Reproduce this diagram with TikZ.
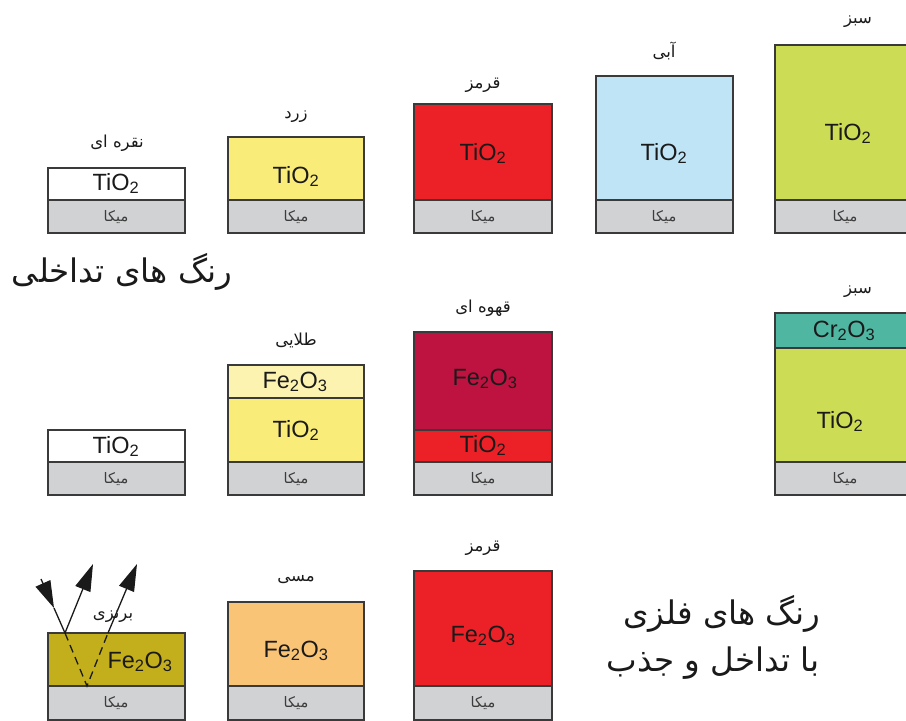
\documentclass[tikz,border=0pt]{standalone}
\usepackage{fontspec}
\setmainfont{Liberation Sans}
\newfontfamily\fa[Script=Arabic]{DejaVu Sans}
\TeXXeTstate=1
\usetikzlibrary{arrows.meta}
\definecolor{edge}{HTML}{3A3A3A}
\definecolor{ink}{HTML}{1A1A1A}
\definecolor{mica}{HTML}{D1D2D4}
\definecolor{yel}{HTML}{FAEC78}
\definecolor{goldlt}{HTML}{FCF3B0}
\definecolor{redc}{HTML}{EC2127}
\definecolor{bluec}{HTML}{BFE4F6}
\definecolor{grn}{HTML}{CDDC55}
\definecolor{crimson}{HTML}{BE1240}
\definecolor{teal}{HTML}{4FB6A2}
\definecolor{bronze}{HTML}{C3AE1C}
\definecolor{copper}{HTML}{F9C475}
\newcommand{\lay}[6]{\node[layer, fill=#6, minimum width={(#4-#2)*1pt}, minimum height={(#5-#3)*1pt}] (#1) at (#2,#3) {};}
\newcommand{\fat}[1]{\beginR #1\endR}
\begin{document}
\begin{tikzpicture}[x=1pt,y=-1pt,
  layer/.style={draw=edge, line width=1.4pt, inner sep=0pt, outer sep=0pt, anchor=north west},
  chem/.style={font=\fontsize{23.5}{24}\selectfont, text=ink, anchor=base, inner sep=0pt},
  micatxt/.style={font=\fa\fontsize{14.5}{15}\selectfont, text=ink!85, inner sep=0pt},
  captxt/.style={font=\fa\fontsize{16.5}{17}\selectfont, text=ink, inner sep=0pt},
  bigtxt/.style={font=\fa\fontsize{32.5}{47}\selectfont, text=ink, inner sep=0pt},
  ray/.style={line width=1.3pt, draw=ink, -{Triangle[length=27pt,width=16pt]}},
  plainray/.style={line width=1.3pt, draw=ink},
  dashray/.style={line width=1.3pt, draw=ink, dash pattern=on 8pt off 5pt},
]
\clip (0,0) rectangle (906,721);
\fill[white] (0,0) rectangle (906,721);

% ---------- row 1 ----------
\lay{s1t}{48}{168}{185}{200}{white}
\lay{s1m}{48}{200}{185}{233}{mica}
\lay{y1t}{228}{137}{364}{200}{yel}
\lay{y1m}{228}{200}{364}{233}{mica}
\lay{r1t}{414}{104}{552}{200}{redc}
\lay{r1m}{414}{200}{552}{233}{mica}
\lay{b1t}{596}{76}{733}{200}{bluec}
\lay{b1m}{596}{200}{733}{233}{mica}
\lay{g1t}{775}{45}{915}{200}{grn}
\lay{g1m}{775}{200}{915}{233}{mica}

\node[chem] (s1tx) at (116,190) {TiO\textsubscript{2}};
\node[chem] (y1tx) at (296,183) {TiO\textsubscript{2}};
\node[chem] (r1tx) at (483,160) {TiO\textsubscript{2}};
\node[chem] (b1tx) at (664,160) {TiO\textsubscript{2}};
\node[chem] (g1tx) at (848,140) {TiO\textsubscript{2}};

\node[captxt] (l11) at (117,143) {\fat{نقره ای}};
\node[captxt] (l12) at (296,117) {\fat{زرد}};
\node[captxt] (l13) at (483,85) {\fat{قرمز}};
\node[captxt] (l14) at (664,51) {\fat{آبی}};
\node[captxt] (l15) at (858,22) {\fat{سبز}};

\node[micatxt] (m11) at (116,217) {\fat{میکا}};
\node[micatxt] (m12) at (296,217) {\fat{میکا}};
\node[micatxt] (m13) at (483,217) {\fat{میکا}};
\node[micatxt] (m14) at (664,217) {\fat{میکا}};
\node[micatxt] (m15) at (845,217) {\fat{میکا}};

\node[bigtxt] (title1) at (122,272) {\fat{رنگ های تداخلی}};

% ---------- row 2 ----------
\lay{s2t}{48}{430}{185}{462}{white}
\lay{s2m}{48}{462}{185}{495}{mica}
\lay{o2f}{228}{365}{364}{398}{goldlt}
\lay{o2t}{228}{398}{364}{462}{yel}
\lay{o2m}{228}{462}{364}{495}{mica}
\lay{br2f}{414}{332}{552}{430}{crimson}
\lay{br2t}{414}{430}{552}{462}{redc}
\lay{br2m}{414}{462}{552}{495}{mica}
\lay{g2c}{775}{313}{915}{348}{teal}
\lay{g2t}{775}{348}{915}{462}{grn}
\lay{g2m}{775}{462}{915}{495}{mica}

\node[chem] (s2tx) at (116,453) {TiO\textsubscript{2}};
\node[chem] (o2fx) at (295,388) {Fe\textsubscript{2}O\textsubscript{3}};
\node[chem] (o2tx) at (296,437) {TiO\textsubscript{2}};
\node[chem] (br2fx) at (485,385) {Fe\textsubscript{2}O\textsubscript{3}};
\node[chem] (br2tx) at (483,452) {TiO\textsubscript{2}};
\node[chem] (g2cx) at (844,337) {Cr\textsubscript{2}O\textsubscript{3}};
\node[chem] (g2tx) at (840,428) {TiO\textsubscript{2}};

\node[captxt] (l22) at (296,340) {\fat{طلایی}};
\node[captxt] (l23) at (483,308) {\fat{قهوه ای}};
\node[captxt] (l25) at (858,292) {\fat{سبز}};

\node[micatxt] (m21) at (116,479) {\fat{میکا}};
\node[micatxt] (m22) at (296,479) {\fat{میکا}};
\node[micatxt] (m23) at (483,479) {\fat{میکا}};
\node[micatxt] (m25) at (845,479) {\fat{میکا}};

% ---------- row 3 ----------
\lay{z3f}{48}{633}{185}{686}{bronze}
\lay{z3m}{48}{686}{185}{720}{mica}
\lay{c3f}{228}{602}{364}{686}{copper}
\lay{c3m}{228}{686}{364}{720}{mica}
\lay{r3f}{414}{571}{552}{686}{redc}
\lay{r3m}{414}{686}{552}{720}{mica}

\node[chem] (z3fx) at (140,668) {Fe\textsubscript{2}O\textsubscript{3}};
\node[chem] (c3fx) at (296,657) {Fe\textsubscript{2}O\textsubscript{3}};
\node[chem] (r3fx) at (483,642) {Fe\textsubscript{2}O\textsubscript{3}};

\node[captxt] (l31) at (113,616) {\fat{برنزی}};
\node[captxt] (l32) at (296,580) {\fat{مسی}};
\node[captxt] (l33) at (483,548) {\fat{قرمز}};

\node[micatxt] (m31) at (116,703) {\fat{میکا}};
\node[micatxt] (m32) at (296,703) {\fat{میکا}};
\node[micatxt] (m33) at (483,703) {\fat{میکا}};

\node[bigtxt, anchor=east, align=right] (title2) at (820,637) {\fat{رنگ های فلزی}\\\fat{با تداخل و جذب}};

% ---------- rays ----------
\coordinate (inA) at (41,579);
\coordinate (inM) at (54,608);
\coordinate (P) at (65,633);
\coordinate (outA) at (93,564);
\coordinate (Q) at (87,686);
\coordinate (R) at (108,633);
\coordinate (outB) at (137,564);
\draw[ray] (inA) -- (inM);
\draw[plainray] (inM) -- (P);
\draw[ray] (P) -- (outA);
\draw[dashray] (P) -- (Q) -- (R);
\draw[ray] (R) -- (outB);
\end{tikzpicture}
\end{document}
